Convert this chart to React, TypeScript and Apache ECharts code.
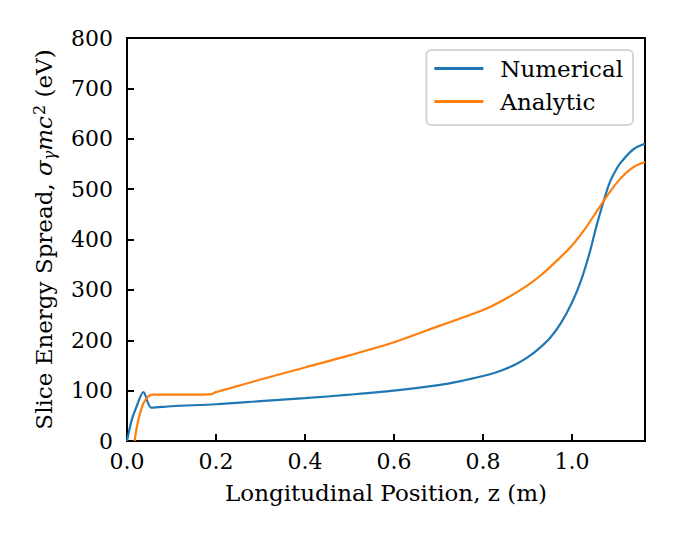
import React, { useEffect, useRef } from "react";
import * as echarts from "echarts";

const numericalZ = [0, 0.01, 0.02, 0.037, 0.055, 0.1, 0.2, 0.3, 0.4, 0.5, 0.6, 0.7, 0.75, 0.8, 0.825, 0.85, 0.875, 0.9, 0.925, 0.95, 0.975, 1.0, 1.02, 1.04, 1.055, 1.07, 1.085, 1.1, 1.108, 1.13, 1.145, 1.164];
const numericalE = [0, 40, 65, 97, 66, 69, 73, 79, 85, 92, 100, 111, 119, 129, 135, 143, 153, 166, 183, 204, 234, 275, 318, 375, 427, 473, 514, 540, 551, 573, 583, 590];

const analyticZ = [0.017, 0.025, 0.037, 0.05, 0.06, 0.1, 0.15, 0.19, 0.2, 0.3, 0.4, 0.5, 0.6, 0.7, 0.8, 0.85, 0.9, 0.93, 0.96, 0.98, 1.0, 1.03, 1.06, 1.08, 1.1, 1.12, 1.14, 1.164];
const analyticE = [0, 40, 75, 90, 92, 92, 92, 93, 97, 122, 146, 170, 196, 228, 260, 282, 309, 329, 353, 370, 388, 422, 462, 488, 512, 531, 545, 554];

const xTickLabels = ["0.0", "0.2", "0.4", "0.6", "0.8", "1.0"];
const yTickLabels = ["0", "100", "200", "300", "400", "500", "600", "700", "800"];

const FONT = "DejaVu Serif";
const FS = 22;
const FN = 23;

export default function App() {
  const ref = useRef<HTMLDivElement>(null);
  useEffect(() => {
    document.body.style.margin = "0";
    if (!ref.current) return;
    const chart = echarts.init(ref.current, null, { renderer: "svg" });
    const toPairs = (xs: number[], ys: number[]) => xs.map((x, i) => [x, ys[i]]);
    chart.setOption({
      animation: false,
      backgroundColor: "#ffffff",
      textStyle: { fontFamily: FONT },
      grid: {
        left: 127,
        right: 30,
        top: 38,
        bottom: 95,
        show: true,
        borderColor: "#000",
        borderWidth: 2,
        containLabel: false,
      },
      legend: {
        orient: "vertical",
        right: 42,
        top: 50,
        padding: [7, 10, 12, 8],
        itemGap: 10,
        itemWidth: 49,
        itemHeight: 3,
        icon: "rect",
        borderColor: "#d5d5d5",
        borderWidth: 2,
        borderRadius: 5,
        backgroundColor: "#fff",
        textStyle: { fontFamily: FONT, fontSize: FN, color: "#000", padding: [0, 0, 0, 12], lineHeight: 23 },
        data: ["Numerical", "Analytic"],
      },
      xAxis: {
        type: "value",
        min: 0,
        max: 1.164,
        interval: 0.2,
        name: "Longitudinal Position, z (m)",
        nameLocation: "middle",
        nameGap: 40,
        nameTextStyle: { fontFamily: FONT, fontSize: FN, color: "#000" },
        axisLine: { show: true, lineStyle: { color: "#000", width: 2 } },
        axisTick: { show: true, inside: true, length: 7, lineStyle: { color: "#000", width: 2 } },
        axisLabel: {
          fontFamily: FONT,
          fontSize: FS,
          color: "#000",
          margin: 9,
          showMaxLabel: false,
          formatter: (v: number) => xTickLabels[Math.round(v / 0.2)] ?? "",
        },
        splitLine: { show: false },
      },
      yAxis: {
        type: "value",
        min: 0,
        max: 800,
        interval: 100,
        name: "Slice Energy Spread, {i|σ}{s|γ}{i|mc}{p|2} (eV)",
        nameLocation: "middle",
        nameGap: 70,
        nameTextStyle: {
          fontFamily: FONT,
          fontSize: FN,
          color: "#000",
          rich: {
            i: { fontFamily: FONT, fontSize: FN, fontStyle: "italic", color: "#000" },
            s: { fontFamily: FONT, fontSize: 16, fontStyle: "italic", color: "#000", verticalAlign: "bottom", padding: [10, 0, 0, 0] },
            p: { fontFamily: FONT, fontSize: 16, color: "#000", verticalAlign: "top", padding: [0, 0, 10, 1] },
          },
        },
        axisLine: { show: true, lineStyle: { color: "#000", width: 2 } },
        axisTick: { show: true, inside: true, length: 7, lineStyle: { color: "#000", width: 2 } },
        axisLabel: {
          fontFamily: FONT,
          fontSize: FS,
          color: "#000",
          margin: 14,
          formatter: (v: number) => yTickLabels[Math.round(v / 100)] ?? "",
        },
        splitLine: { show: false },
      },
      series: [
        {
          name: "Numerical",
          type: "line",
          data: toPairs(numericalZ, numericalE),
          smooth: 0.3,
          showSymbol: false,
          symbol: "none",
          lineStyle: { color: "#1f77b4", width: 2.2 },
          itemStyle: { color: "#1f77b4" },
          clip: true,
        },
        {
          name: "Analytic",
          type: "line",
          data: toPairs(analyticZ, analyticE),
          smooth: 0.3,
          showSymbol: false,
          symbol: "none",
          lineStyle: { color: "#ff7f0e", width: 2.2 },
          itemStyle: { color: "#ff7f0e" },
          clip: true,
        },
      ],
    });
    return () => chart.dispose();
  }, []);
  return <div ref={ref} style={{ width: 675, height: 536 }} />;
}
